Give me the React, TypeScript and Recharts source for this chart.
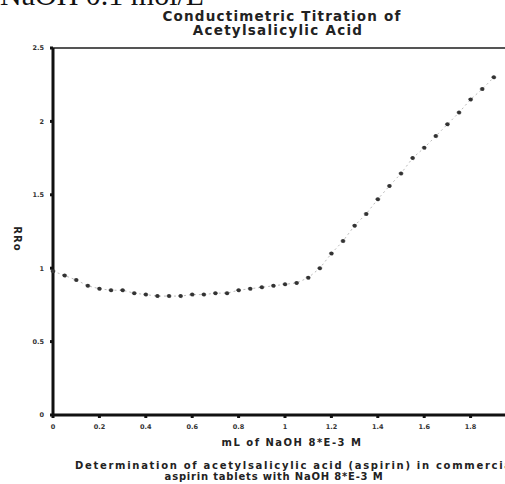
import React from 'react';
import { LineChart, Line, XAxis, YAxis, ReferenceLine } from 'recharts';

// mL of NaOH added
const volume = [
  0, 0.05, 0.1, 0.15, 0.2, 0.25, 0.3, 0.35, 0.4, 0.45, 0.5, 0.55, 0.6, 0.65, 0.7, 0.75, 0.8, 0.85, 0.9, 0.95,
  1.0, 1.05, 1.1, 1.15, 1.2, 1.25, 1.3, 1.35, 1.4, 1.45, 1.5, 1.55, 1.6, 1.65, 1.7, 1.75, 1.8, 1.85, 1.9,
];
// R/Ro readings
const ratio = [
  0.98, 0.95, 0.92, 0.88, 0.86, 0.85, 0.85, 0.83, 0.82, 0.81, 0.81, 0.81, 0.82, 0.82, 0.83, 0.83, 0.85, 0.86, 0.87, 0.88,
  0.89, 0.9, 0.935, 1.0, 1.1, 1.185, 1.29, 1.37, 1.47, 1.56, 1.645, 1.75, 1.82, 1.9, 1.98, 2.06, 2.15, 2.22, 2.3,
];
const xTicks = [0, 0.2, 0.4, 0.6, 0.8, 1, 1.2, 1.4, 1.6, 1.8];
const yTicks = [0, 0.5, 1, 1.5, 2, 2.5];

const data = volume.map((v, i) => ({ v, r: ratio[i] }));

const sans = '"DejaVu Sans", Verdana, sans-serif';
const tickStyle = { fill: '#333', fontSize: 6.5, fontWeight: 'bold', fontFamily: sans };

export default function App() {
  return (
    <div style={{ position: 'fixed', left: 0, top: 0, width: 505, height: 484, overflow: 'hidden', background: '#fff' }}>
      <LineChart width={529} height={440} data={data} margin={{ top: 48, right: 12, bottom: 0, left: 0 }}>
        <ReferenceLine y={2.5} stroke="#555" strokeWidth={2} />
        <XAxis
          type="number"
          dataKey="v"
          domain={[0, 2]}
          ticks={xTicks}
          height={25}
          stroke="#111"
          strokeWidth={3}
          tickSize={3}
          tickMargin={6}
          tick={tickStyle}
        />
        <YAxis
          type="number"
          domain={[0, 2.5]}
          ticks={yTicks}
          width={53}
          stroke="#111"
          strokeWidth={3}
          tickSize={3}
          tickMargin={6}
          tick={tickStyle}
        />
        <Line
          type="linear"
          dataKey="r"
          stroke="#bbb"
          strokeWidth={1}
          strokeDasharray="2 3"
          dot={{ r: 2, fill: '#333', stroke: '#333', strokeWidth: 0.5 }}
          isAnimationActive={false}
        />
      </LineChart>
      <svg width={505} height={484} style={{ position: 'absolute', left: 0, top: 0, pointerEvents: 'none' }}>
        <text x={0} y={5} fontFamily='"Liberation Serif", "Times New Roman", serif' fontSize={30} fill="#111">
          NaOH 0.1 mol/L
        </text>
        <g fontFamily={sans} fontWeight="bold" fill="#222" textAnchor="middle">
          <text x={282} y={21} fontSize={13.5} letterSpacing={1.2}>Conductimetric Titration of</text>
          <text x={278} y={35} fontSize={13.5} letterSpacing={1.25}>Acetylsalicylic Acid</text>
          <text transform="translate(14,239) rotate(90)" fontSize={10} letterSpacing={1}>RRo</text>
          <text x={292} y={446} fontSize={10} letterSpacing={1.5}>mL of NaOH 8*E-3 M</text>
          <text x={75} y={469} fontSize={10} letterSpacing={1.7} textAnchor="start">
            Determination of acetylsalicylic acid (aspirin) in commercial
          </text>
          <text x={274} y={480} fontSize={10} letterSpacing={0.8}>aspirin tablets with NaOH 8*E-3 M</text>
        </g>
      </svg>
    </div>
  );
}
